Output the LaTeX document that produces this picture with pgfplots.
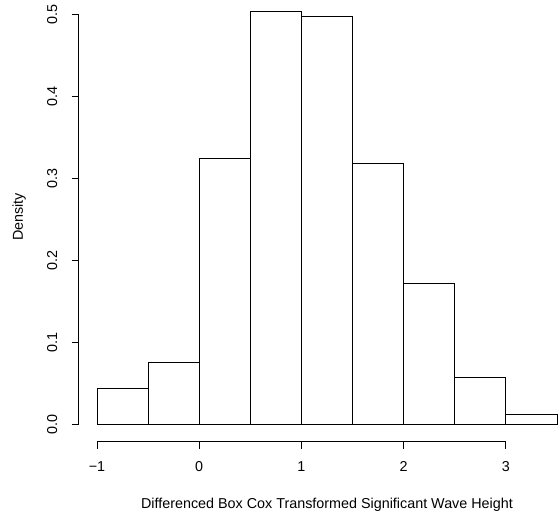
\documentclass[border=0pt]{standalone}
\usepackage{pgfplots}
\pgfplotsset{compat=1.18}
\usepackage{fontspec}
\setmainfont{Liberation Sans}
\begin{document}
\begin{tikzpicture}
\begin{axis}[
  at={(78.6bp,0bp)}, anchor=north west,
  scale only axis, width=481.4bp, height=441.5bp,
  xmin=-1.18, xmax=3.530, ymin=-0.021, ymax=0.5174,
  axis x line*=bottom, axis y line*=left,
  axis line style={draw=none},
  tick align=outside, major tick length=7bp,
  tick style={black, line width=0.75bp},
  xtick={-1,0,1,2,3}, xticklabels={−1,0,1,2,3},
  ytick={0,0.1,0.2,0.3,0.4,0.5},
  yticklabels={\rotatebox{90}{0.0},\rotatebox{90}{0.1},\rotatebox{90}{0.2},\rotatebox{90}{0.3},\rotatebox{90}{0.4},\rotatebox{90}{0.5}},
  ticklabel style={font=\fontsize{14.4}{17}\selectfont, inner sep=0pt},
  xticklabel style={anchor=base, yshift=-23bp},
  yticklabel style={anchor=east, xshift=-14.1bp},
  xlabel={Differenced Box Cox Transformed Significant Wave Height},
  xlabel style={at={(axis description cs:0.5159,0)}, anchor=base, yshift=-66.5bp, inner sep=0pt, font=\fontsize{14.4}{17}\selectfont},
  ylabel={Density},
  ylabel style={at={(axis description cs:0,0.5085)}, anchor=base, yshift=55.6bp, inner sep=0pt, font=\fontsize{14.4}{17}\selectfont},
  clip=false,
]
\addplot[ybar interval, fill=white, draw=black, line width=0.75bp] coordinates {
  (-1,0.0443) (-0.5,0.076) (0,0.324) (0.5,0.503) (1,0.497) (1.5,0.318) (2,0.172) (2.5,0.0573) (3,0.0122) (3.5,0.0122)
};
\draw[line width=0.75bp] (axis cs:-1,-0.021) -- (axis cs:3,-0.021);
\draw[line width=0.75bp] (axis cs:-1.18,0) -- (axis cs:-1.18,0.5);
\end{axis}
\pgfresetboundingbox
\useasboundingbox (0,0) rectangle (560bp,-517bp);
\end{tikzpicture}
\end{document}
